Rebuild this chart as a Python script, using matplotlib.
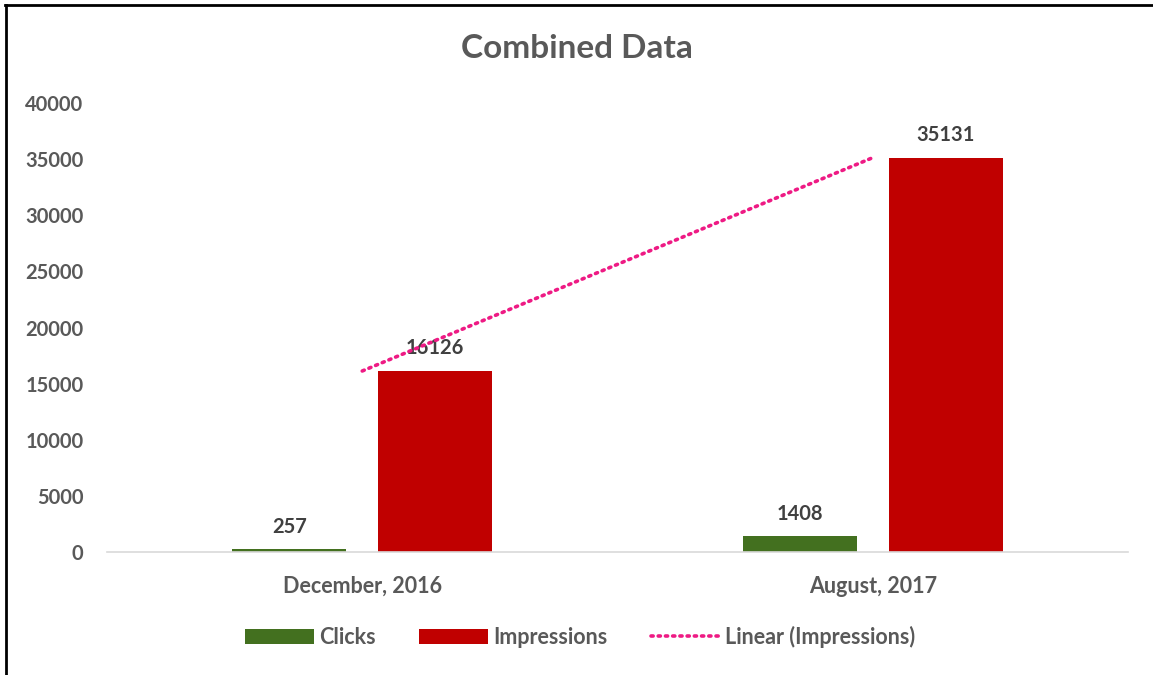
import matplotlib.pyplot as plt
import numpy as np
from matplotlib.lines import Line2D

plt.rcParams['font.family'] = ['Lato', 'DejaVu Sans']

categories = ["December, 2016", "August, 2017"]
clicks = [257, 1408]
impressions = [16126, 35131]
y_ticks = [0, 5000, 10000, 15000, 20000, 25000, 30000, 35000, 40000]

green = "#43701f"
red = "#c00000"
pink = "#ee1a84"
grey = "#595959"

fig = plt.figure(figsize=(11.53, 6.75), dpi=100)
ax = fig.add_axes([0.0928, 0.1822, 0.8855, 0.6652])

x = np.arange(len(categories))
w = 0.223
off = 0.143
b1 = ax.bar(x - off, clicks, w, color=green, label="Clicks")
b2 = ax.bar(x + off, impressions, w, color=red, label="Impressions")

# linear trend of impressions across the categories
coef = np.polyfit(x, impressions, 1)
trend, = ax.plot(x, np.polyval(coef, x), linestyle=(0, (0.6, 1.4)), dash_capstyle='round',
                 color=pink, linewidth=2.6, label="Linear (Impressions)", zorder=4)

for bars, vals in [(b1, clicks), (b2, impressions)]:
    for r, v in zip(bars, vals):
        ax.annotate(str(v), (r.get_x() + r.get_width() / 2, v), xytext=(0, 9),
                    textcoords='offset points', ha='center', va='bottom',
                    fontsize=14.5, fontweight='bold', color="#404040", zorder=3)

ax.set_xlim(-0.5, 1.5)
ax.set_ylim(0, 40000)
ax.set_yticks(y_ticks)
ax.set_yticklabels([str(t) for t in y_ticks], fontsize=14.5, fontweight='bold', color=grey)
ax.set_xticks(x)
ax.set_xticklabels(categories, fontsize=15.5, fontweight='bold', color=grey)
ax.tick_params(axis='both', length=0)
ax.tick_params(axis='y', pad=17)
ax.tick_params(axis='x', pad=17)
for s in ['top', 'right', 'left']:
    ax.spines[s].set_visible(False)
ax.spines['bottom'].set_color("#d9d9d9")
ax.spines['bottom'].set_linewidth(1.2)

fig.text(0.5, 1 - 49 / 675, "Combined Data", ha='center', va='center',
         fontsize=24, fontweight='bold', color=grey)

leg = fig.legend(handles=[b1, b2, trend], loc='center', bbox_to_anchor=(0.503, 1 - 637 / 675),
                 ncol=3, frameon=False, handlelength=3.2, handleheight=0.7, handletextpad=0.25,
                 columnspacing=2.0, prop={'weight': 'bold', 'size': 15.5})
for t in leg.get_texts():
    t.set_color(grey)

# chart frame: top and left edges
fig.add_artist(Line2D([5 / 1153, 1], [1 - 4.5 / 675] * 2, color='black', linewidth=2,
                      transform=fig.transFigure))
fig.add_artist(Line2D([5.5 / 1153] * 2, [0, 1 - 4.5 / 675], color='black', linewidth=2,
                      transform=fig.transFigure))

fig.savefig("out.png", dpi=100)
